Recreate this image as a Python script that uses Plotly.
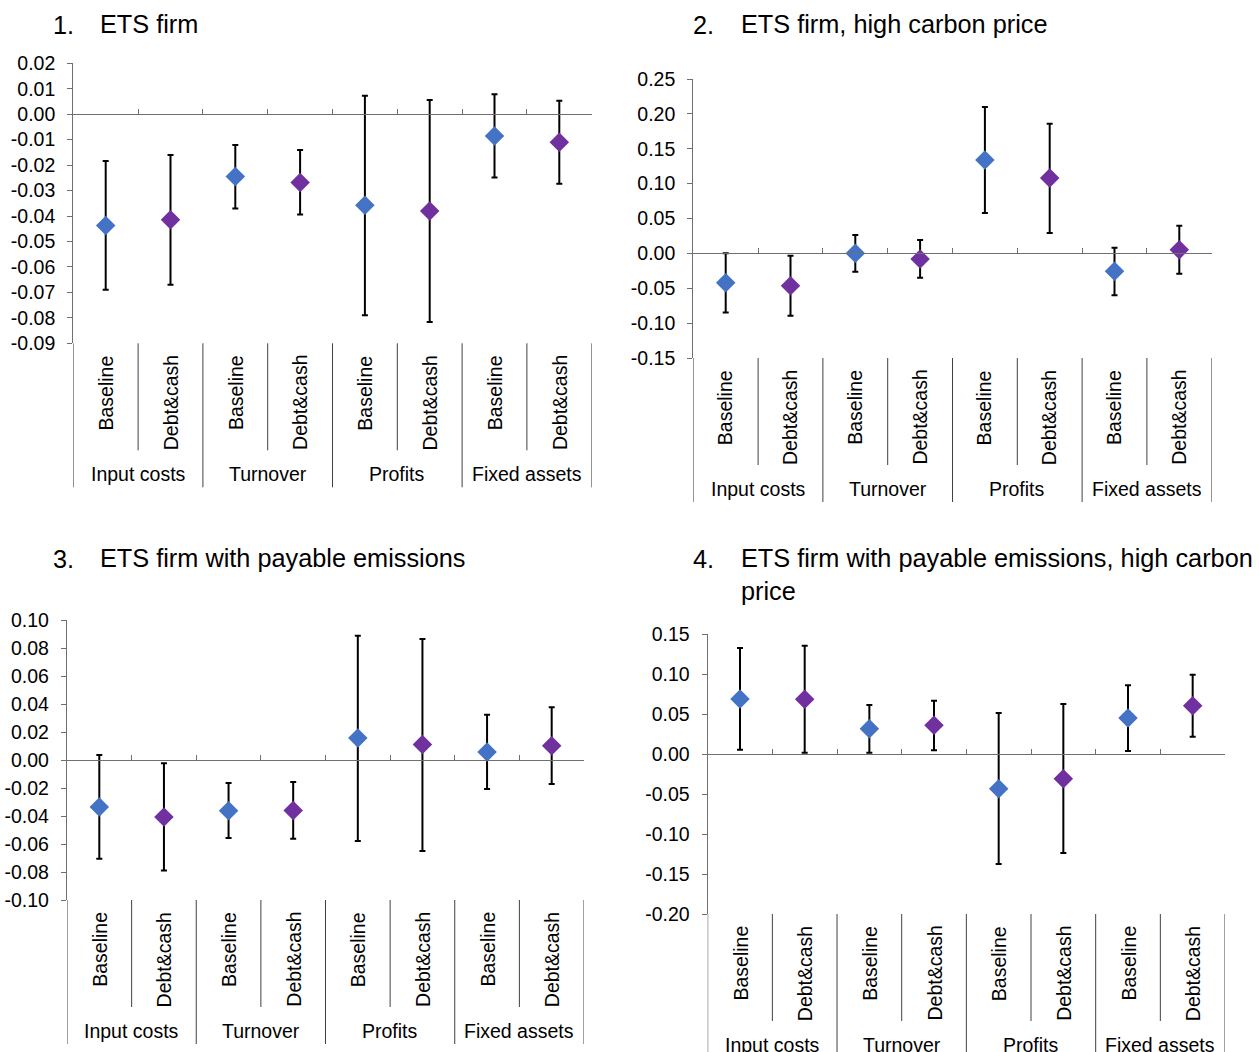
import plotly.graph_objects as go

W, H = 1259, 1052

# ---------------- data ----------------
groups = ["Input costs", "Turnover", "Profits", "Fixed assets"]
variants = ["Baseline", "Debt&cash"]

titles_num = ["1.", "2.", "3.", "4."]
titles_txt = ["ETS firm",
              "ETS firm, high carbon price",
              "ETS firm with payable emissions",
              "ETS firm with payable emissions, high carbon<br>price"]

# Panel 1
p1_base_val = [-0.0437, -0.0245, -0.0358, -0.0086]
p1_base_hi = [-0.0184, -0.0121, 0.0073, 0.0078]
p1_base_lo = [-0.0690, -0.0370, -0.0790, -0.0249]
p1_debt_val = [-0.0415, -0.0268, -0.0380, -0.0110]
p1_debt_hi = [-0.0160, -0.0141, 0.0056, 0.0053]
p1_debt_lo = [-0.0670, -0.0394, -0.0816, -0.0273]

# Panel 2
p2_base_val = [-0.0420, 0.0000, 0.1338, -0.0258]
p2_base_hi = [0.0000, 0.0263, 0.2098, 0.0080]
p2_base_lo = [-0.0847, -0.0263, 0.0578, -0.0602]
p2_debt_val = [-0.0464, -0.0082, 0.1080, 0.0052]
p2_debt_hi = [-0.0033, 0.0190, 0.1860, 0.0396]
p2_debt_lo = [-0.0894, -0.0350, 0.0291, -0.0292]

# Panel 3
p3_base_val = [-0.0336, -0.0362, 0.0157, 0.0057]
p3_base_hi = [0.0036, -0.0164, 0.0888, 0.0324]
p3_base_lo = [-0.0705, -0.0557, -0.0579, -0.0207]
p3_debt_val = [-0.0407, -0.0360, 0.0110, 0.0102]
p3_debt_hi = [-0.0024, -0.0157, 0.0864, 0.0376]
p3_debt_lo = [-0.0790, -0.0562, -0.0650, -0.0171]

# Panel 4
p4_base_val = [0.0688, 0.0317, -0.0433, 0.0450]
p4_base_hi = [0.1325, 0.0613, 0.0512, 0.0858]
p4_base_lo = [0.0054, 0.0017, -0.1375, 0.0037]
p4_debt_val = [0.0683, 0.0358, -0.0308, 0.0604]
p4_debt_hi = [0.1354, 0.0667, 0.0625, 0.0992]
p4_debt_lo = [0.0017, 0.0046, -0.1238, 0.0217]

# y tick values / labels
p1_ticks = [0.02, 0.01, 0.00, -0.01, -0.02, -0.03, -0.04, -0.05, -0.06, -0.07, -0.08, -0.09]
p1_ticktext = ["0.02", "0.01", "0.00", "-0.01", "-0.02", "-0.03", "-0.04", "-0.05", "-0.06", "-0.07", "-0.08", "-0.09"]
p2_ticks = [0.25, 0.20, 0.15, 0.10, 0.05, 0.00, -0.05, -0.10, -0.15]
p2_ticktext = ["0.25", "0.20", "0.15", "0.10", "0.05", "0.00", "-0.05", "-0.10", "-0.15"]
p3_ticks = [0.10, 0.08, 0.06, 0.04, 0.02, 0.00, -0.02, -0.04, -0.06, -0.08, -0.10]
p3_ticktext = ["0.10", "0.08", "0.06", "0.04", "0.02", "0.00", "-0.02", "-0.04", "-0.06", "-0.08", "-0.10"]
p4_ticks = [0.15, 0.10, 0.05, 0.00, -0.05, -0.10, -0.15, -0.20]
p4_ticktext = ["0.15", "0.10", "0.05", "0.00", "-0.05", "-0.10", "-0.15", "-0.20"]

panels = [
    dict(base=(p1_base_val, p1_base_lo, p1_base_hi), debt=(p1_debt_val, p1_debt_lo, p1_debt_hi),
         ticks=p1_ticks, ticktext=p1_ticktext),
    dict(base=(p2_base_val, p2_base_lo, p2_base_hi), debt=(p2_debt_val, p2_debt_lo, p2_debt_hi),
         ticks=p2_ticks, ticktext=p2_ticktext),
    dict(base=(p3_base_val, p3_base_lo, p3_base_hi), debt=(p3_debt_val, p3_debt_lo, p3_debt_hi),
         ticks=p3_ticks, ticktext=p3_ticktext),
    dict(base=(p4_base_val, p4_base_lo, p4_base_hi), debt=(p4_debt_val, p4_debt_lo, p4_debt_hi),
         ticks=p4_ticks, ticktext=p4_ticktext),
]

# ---------------- layout geometry (pixels) ----------------
boxes = [  # left, right, top, bottom of plot area
    (73.3, 591.7, 63.3, 343.3),
    (693.3, 1211.7, 79.0, 358.0),
    (67.0, 584.0, 620.0, 900.0),
    (707.7, 1225.0, 634.0, 914.0),
]
title_pos = [(51, 98, 25), (691, 739, 25), (51, 98, 559), (691, 739, 559)]

FONT = "Liberation Sans, Arial, sans-serif"
BLUE = "#4472C4"
PURPLE = "#7030A0"
AXC = "#6f6f6f"
SEPC = "#404040"
TITLE_SIZE = 25.3
TICK_SIZE = 19.5

fig = go.Figure()
layout = dict(width=W, height=H, autosize=False,
              margin=dict(l=0, r=0, t=0, b=0, pad=0, autoexpand=False),
              paper_bgcolor="white", plot_bgcolor="white", showlegend=False,
              font=dict(family=FONT, size=19, color="black"))
shapes = []
annotations = []

cats = [(g, v) for g in groups for v in variants]
xidx = {c: i for i, c in enumerate(cats)}

for k, p in enumerate(panels):
    n = "" if k == 0 else str(k + 1)
    xa, ya = "x" + n, "y" + n
    L, R, T, B = boxes[k]
    hpx = B - T
    ymin, ymax = min(p["ticks"]), max(p["ticks"])
    for vi, (key, col) in enumerate([("base", BLUE), ("debt", PURPLE)]):
        val, lo, hi = p[key]
        xs = [xidx[(g, variants[vi])] for g in groups]
        fig.add_trace(go.Scatter(
            x=xs, y=val, mode="markers", xaxis=xa, yaxis=ya,
            marker=dict(symbol="diamond", size=15, color=col, line=dict(width=0)),
            error_y=dict(type="data", symmetric=False,
                         array=[h - v for h, v in zip(hi, val)],
                         arrayminus=[v - l for v, l in zip(val, lo)],
                         color="black", thickness=2, width=3),
            cliponaxis=False,
        ))
    zero_px = T + (ymax - 0) / (ymax - ymin) * hpx
    layout["xaxis" + n] = dict(
        domain=[L / W, R / W], anchor="free", position=1 - zero_px / H,
        range=[-0.5, 7.5], showgrid=False, zeroline=False, showline=True,
        linecolor=AXC, linewidth=1.3, ticks="inside", ticklen=5, tickcolor=AXC,
        tickvals=[0.5, 1.5, 2.5, 3.5, 4.5, 5.5, 6.5, 7.5], showticklabels=False,
        fixedrange=True)
    layout["yaxis" + n] = dict(
        domain=[1 - B / H, 1 - T / H], anchor=xa, range=[ymin, ymax],
        showgrid=False, zeroline=False, showline=True, linecolor=AXC, linewidth=1.3,
        ticks="outside", ticklen=5, tickcolor=AXC, tickvals=p["ticks"], ticktext=p["ticktext"],
        tickfont=dict(size=TICK_SIZE, family=FONT, color="black"), ticklabelstandoff=8,
        fixedrange=True)

    yd = ya + " domain"
    # separator lines below the plot area
    for b in range(9):
        xb = b - 0.5
        length = 144 if b % 2 == 0 else 107
        shapes.append(dict(type="line", xref=xa, yref=yd, x0=xb, x1=xb,
                           y0=0, y1=-length / hpx, line=dict(color=SEPC, width=1)))
    # category labels
    for (g, v), i in xidx.items():
        annotations.append(dict(x=i, y=0, xref=xa, yref=yd, text=v, showarrow=False,
                                textangle=-90, xanchor="center", yanchor="top", yshift=-10,
                                font=dict(size=TICK_SIZE, family=FONT, color="black")))
    for gi, g in enumerate(groups):
        annotations.append(dict(x=2 * gi + 0.5, y=0, xref=xa, yref=yd, text=g, showarrow=False,
                                xanchor="center", yanchor="middle", yshift=-131,
                                font=dict(size=TICK_SIZE, family=FONT, color="black")))
    # title
    nx, tx, ty = title_pos[k]
    annotations.append(dict(x=nx / W, y=1 - ty / H, xref="paper", yref="paper", text=titles_num[k],
                            showarrow=False, xanchor="left", yanchor="middle",
                            font=dict(size=TITLE_SIZE, family=FONT, color="black")))
    annotations.append(dict(x=tx / W, y=1 - (ty - 17) / H, xref="paper", yref="paper",
                            text=titles_txt[k], showarrow=False, xanchor="left", yanchor="top",
                            align="left", font=dict(size=TITLE_SIZE, family=FONT, color="black")))

layout["shapes"] = shapes
layout["annotations"] = annotations
fig.update_layout(**layout)
fig.write_html("out.html", config={"displayModeBar": False},
               post_script="document.body.style.margin='0';")
